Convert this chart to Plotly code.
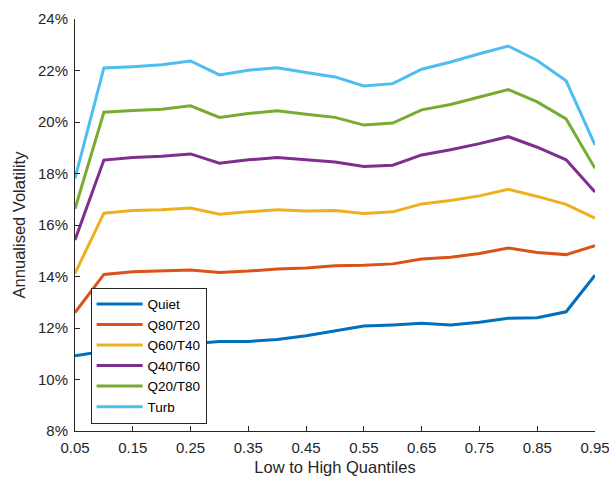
import plotly.graph_objects as go

quantiles = [0.05, 0.10, 0.15, 0.20, 0.25, 0.30, 0.35, 0.40, 0.45, 0.50,
             0.55, 0.60, 0.65, 0.70, 0.75, 0.80, 0.85, 0.90, 0.95]

quiet = [10.92, 11.10, 11.20, 11.30, 11.40, 11.48, 11.48, 11.55, 11.70, 11.90,
         12.08, 12.12, 12.18, 12.12, 12.22, 12.38, 12.40, 12.63, 14.05]
q80_t20 = [12.60, 14.08, 14.18, 14.21, 14.25, 14.16, 14.21, 14.29, 14.33, 14.42,
           14.44, 14.49, 14.68, 14.75, 14.89, 15.11, 14.93, 14.85, 15.20]
q60_t40 = [14.12, 16.46, 16.56, 16.59, 16.66, 16.42, 16.51, 16.59, 16.54, 16.56,
           16.45, 16.51, 16.82, 16.95, 17.13, 17.39, 17.11, 16.80, 16.27]
q40_t60 = [15.42, 18.52, 18.62, 18.67, 18.76, 18.40, 18.53, 18.62, 18.53, 18.45,
           18.27, 18.32, 18.72, 18.92, 19.16, 19.43, 19.02, 18.53, 17.28]
q20_t80 = [16.63, 20.38, 20.45, 20.50, 20.63, 20.18, 20.33, 20.44, 20.30, 20.18,
           19.88, 19.96, 20.47, 20.68, 20.97, 21.26, 20.78, 20.12, 18.20]
turb = [17.81, 22.10, 22.15, 22.22, 22.37, 21.83, 22.01, 22.11, 21.92, 21.75,
        21.40, 21.49, 22.05, 22.33, 22.65, 22.95, 22.39, 21.60, 19.11]

series_names = ["Quiet", "Q80/T20", "Q60/T40", "Q40/T60", "Q20/T80", "Turb"]
series_values = [quiet, q80_t20, q60_t40, q40_t60, q20_t80, turb]
colors = ["#0072BD", "#D95319", "#EDB120", "#7E2F8E", "#77AC30", "#4DBEEE"]

x_ticks = [0.05, 0.15, 0.25, 0.35, 0.45, 0.55, 0.65, 0.75, 0.85, 0.95]
x_tick_labels = ["0.05", "0.15", "0.25", "0.35", "0.45", "0.55", "0.65", "0.75", "0.85", "0.95"]
y_ticks = [8, 10, 12, 14, 16, 18, 20, 22, 24]
y_tick_labels = ["8%", "10%", "12%", "14%", "16%", "18%", "20%", "22%", "24%"]

axis_color = "#262626"
font_family = "Liberation Sans, Arial, sans-serif"

fig = go.Figure()
for name, vals, col in zip(series_names, series_values, colors):
    fig.add_trace(go.Scatter(
        x=quantiles, y=vals, mode="lines", name=name,
        line=dict(color=col, width=3),
    ))

fig.update_layout(
    width=609, height=480,
    margin=dict(l=75, r=14, t=19, b=49),
    paper_bgcolor="white", plot_bgcolor="white",
    font=dict(family=font_family, color=axis_color, size=15),
    showlegend=True,
    legend=dict(
        x=0.03, y=0.348, xanchor="left", yanchor="top",
        bgcolor="white", bordercolor=axis_color, borderwidth=1,
        font=dict(size=13.5, color="#000000"),
        tracegroupgap=0, itemwidth=46,
    ),
)

fig.update_xaxes(
    range=[0.05, 0.95], tickvals=x_ticks, ticktext=x_tick_labels,
    automargin=False,
    showgrid=False, zeroline=False,
    showline=True, linecolor=axis_color, linewidth=1,
    ticks="inside", ticklen=5, tickcolor=axis_color,
    ticklabelstandoff=3, ticklabeloverflow="allow",
    tickfont=dict(size=15, color=axis_color),
    title=dict(text="Low to High Quantiles", font=dict(size=16.5, color=axis_color), standoff=6),
)
fig.update_yaxes(
    range=[8, 24], tickvals=y_ticks, ticktext=y_tick_labels,
    automargin=False,
    showgrid=False, zeroline=False,
    showline=True, linecolor=axis_color, linewidth=1,
    ticks="inside", ticklen=5, tickcolor=axis_color,
    ticklabelstandoff=3,
    tickfont=dict(size=15, color=axis_color),
    title=dict(text="Annualised Volatility", font=dict(size=16.5, color=axis_color), standoff=8),
)

fig.write_html("out.html")
